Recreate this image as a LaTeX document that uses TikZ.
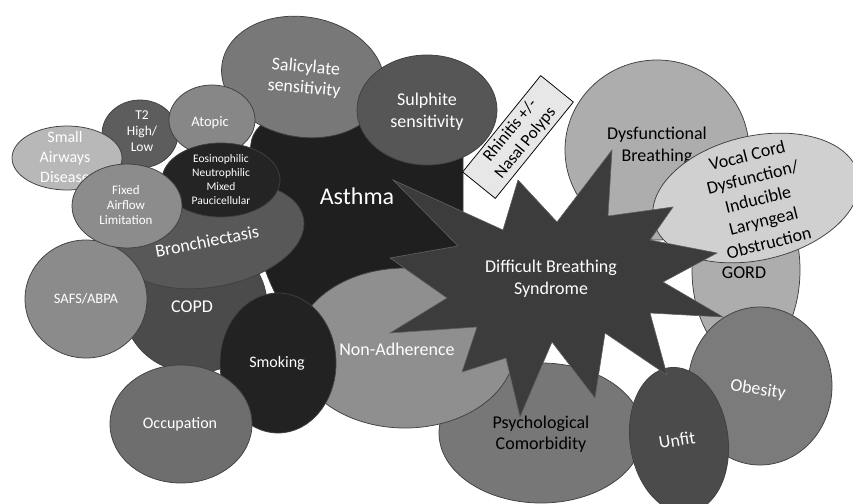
\documentclass[tikz,border=0pt]{standalone}
\usepackage{fontspec}
\setmainfont{Carlito}
\usetikzlibrary{shapes.geometric}
\definecolor{cAsthma}{HTML}{1F1F1F}
\definecolor{cStar}{HTML}{3C3C3C}
\definecolor{cDB}{HTML}{ADADAD}
\definecolor{cVCD}{HTML}{D0D0D0}
\definecolor{cBox}{HTML}{E7E7E7}
\definecolor{cSal}{HTML}{787878}
\definecolor{cSul}{HTML}{565656}
\definecolor{cCOPD}{HTML}{4B4B4B}
\definecolor{cBron}{HTML}{585858}
\definecolor{cSAFS}{HTML}{8B8B8B}
\definecolor{cT2}{HTML}{5D5D5D}
\definecolor{cAtop}{HTML}{878787}
\definecolor{cSAD}{HTML}{B8B8B8}
\definecolor{cEos}{HTML}{242424}
\definecolor{cFix}{HTML}{8C8C8C}
\definecolor{cPsy}{HTML}{777777}
\definecolor{cNon}{HTML}{8F8F8F}
\definecolor{cSmk}{HTML}{222222}
\definecolor{cOcc}{HTML}{6E6E6E}
\definecolor{cObe}{HTML}{7B7B7B}
\definecolor{cUnf}{HTML}{4B4B4B}
\definecolor{cEdge}{HTML}{404040}
\begin{document}
\begin{tikzpicture}[x=1pt,y=-1pt,
  blob/.style={ellipse, draw=cEdge, line width=0.75pt, inner sep=0pt, outer sep=0pt},
  sz/.style 2 args={minimum width=#1pt, minimum height=#2pt},
  fz/.style 2 args={font=\fontsize{#1}{#2}\selectfont},
  tw/.style={text=white, align=center, inner sep=0pt},
  tb/.style={text=black, align=center, inner sep=0pt}]
\useasboundingbox (0,0) rectangle (853,503);

% Asthma body
\path[draw=cEdge, line width=0.75pt, fill=cAsthma, rounded corners=28pt]
  (252,118) -- (463,118) -- (463,305) -- (300,332) -- (268,285) -- (248,200) -- cycle;
\node[tw, fz={24}{28}] (asthmaT) at (357,196) {Asthma};

% Right cluster
\node[blob, fill=cDB, sz={184}{180}] (db) at (657,150) {};
\node[tb, fz={18}{22}] (dbT) at (657,146) {Dysfunctional\\Breathing};
\node[blob, fill=cDB, sz={108}{180}] (gord) at (746,270) {};
\node[tb, fz={18}{22}] (gordT) at (744,273) {GORD};
\node[blob, fill=cVCD, sz={210}{124}, rotate=13] (vcd) at (756,198) {};
\node[tb, fz={18}{22.5}, rotate=14] (vcdT) at (758,199) {Vocal Cord\\Dysfunction/\\Inducible\\Laryngeal\\Obstruction};

% Rhinitis box
\node[draw=black, line width=0.75pt, fill=cBox, minimum width=124pt, minimum height=42pt,
      inner sep=0pt, rotate=51] (rhin) at (518,137) {};
\node[tb, fz={17}{19.5}, rotate=51] (rhinT) at (518,137) {Rhinitis +/-\\Nasal Polyps};

% Sensitivities
\node[blob, fill=cSal, sz={164}{120}, rotate=-10] (sal) at (303,77) {};
\node[tw, fz={18}{21}, rotate=-5] (salT) at (305,78) {Salicylate\\sensitivity};
\node[blob, fill=cSul, sz={140}{110}] (sul) at (427,110) {};
\node[tw, fz={18}{22}] (sulT) at (427,112) {Sulphite\\sensitivity};

% Left cluster
\node[blob, fill=cCOPD, sz={144}{136}] (copd) at (195,305) {};
\node[tw, fz={18}{22}] (copdT) at (192,307) {COPD};
\node[blob, fill=cBron, sz={190}{104}, rotate=10] (bron) at (210,235) {};
\node[tw, fz={18}{22}, rotate=11] (bronT) at (207,241) {Bronchiectasis};
\node[blob, fill=cSAFS, sz={122}{118}] (safs) at (86,299) {};
\node[tw, fz={14.5}{17}] (safsT) at (86,299) {SAFS/ABPA};
\node[blob, fill=cT2, sz={76}{68}] (t2) at (140,134) {};
\node[tw, fz={13.5}{16}] (t2T) at (142,131) {T2\\High/\\Low};
\node[blob, fill=cAtop, sz={86}{70}] (atop) at (212,120) {};
\node[tw, fz={14.5}{17}] (atopT) at (210,123) {Atopic};
\node[blob, fill=cSAD, sz={110}{64}] (sad) at (67,158) {};
\node[tw, fz={16}{20}] (sadT) at (65,157) {Small\\Airways\\Disease};
\node[blob, fill=cEos, sz={118}{74}] (eos) at (221,180) {};
\node[tw, fz={11.5}{14}] (eosT) at (221,180) {Eosinophilic\\Neutrophilic\\Mixed\\Paucicellular};
\node[blob, fill=cFix, sz={110}{84}] (fix) at (127,206) {};
\node[tw, fz={13}{15}] (fixT) at (126,205) {Fixed\\Airflow\\Limitation};

% Bottom cluster
\node[blob, fill=cPsy, sz={204}{140}] (psy) at (541,433) {};
\node[tb, fz={18}{21}] (psyT) at (541,434) {Psychological\\Comorbidity};
\node[blob, fill=cNon, sz={220}{160}] (non) at (405,348) {};
\node[tw, fz={18}{22}] (nonT) at (397,349) {Non-Adherence};
\node[blob, fill=cSmk, sz={116}{140}] (smk) at (278,363) {};
\node[tw, fz={16}{20}] (smkT) at (277,363) {Smoking};
\node[blob, fill=cOcc, sz={142}{118}] (occ) at (181,424) {};
\node[tw, fz={16}{20}] (occT) at (180,424) {Occupation};
\node[blob, fill=cObe, sz={144}{158}] (obe) at (760,386) {};
\node[tw, fz={18}{22}, rotate=-8] (obeT) at (758,390) {Obesity};
\node[blob, fill=cUnf, sz={98}{146}, rotate=8] (unf) at (679,440) {};
\node[tw, fz={18}{22}, rotate=9] (unfT) at (677,440) {Unfit};

% Difficult Breathing Syndrome star
\path[draw=black!62, line width=0.6pt, fill=cStar]
  (393,180) -- (503,230) -- (518,180) -- (557,222) -- (612,150) -- (608,216)
  -- (673,207) -- (650,240) -- (717,253) -- (663,282) -- (723,317) -- (650,313)
  -- (667,375) -- (605,333) -- (595,398) -- (552,342) -- (520,417) -- (506,358)
  -- (462,372) -- (477,327) -- (390,333) -- (447,298) -- (390,258) -- (458,246)
  -- cycle;
\node[tw, fz={18}{22}] (dbsT) at (551,279) {Difficult Breathing\\Syndrome};
\end{tikzpicture}
\end{document}
